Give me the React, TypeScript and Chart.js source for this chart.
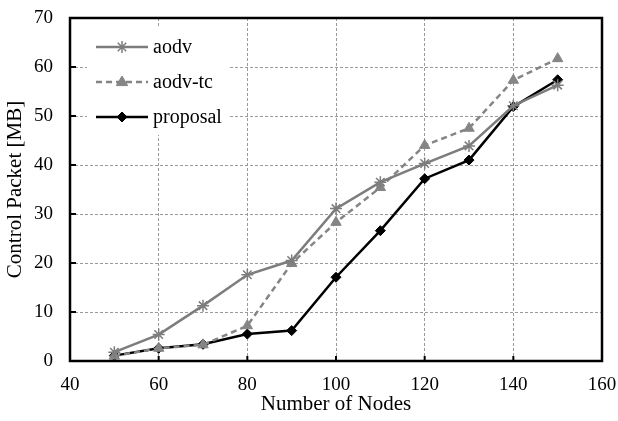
import React, { useEffect, useRef } from "react";
import { Chart, registerables } from "chart.js";

Chart.register(...registerables);

const nodes = [50, 60, 70, 80, 90, 100, 110, 120, 130, 140, 150];
const aodv = [1.8, 5.4, 11.3, 17.6, 20.5, 31.1, 36.5, 40.3, 43.9, 52.1, 56.3];
const aodvTc = [1.0, 2.6, 3.3, 7.2, 19.9, 28.3, 35.4, 44.0, 47.5, 57.3, 61.7];
const proposal = [1.1, 2.6, 3.4, 5.5, 6.2, 17.1, 26.6, 37.2, 41.0, 51.9, 57.4];
const xTicks = [40, 60, 80, 100, 120, 140, 160];
const yTicks = [0, 10, 20, 30, 40, 50, 60, 70];
const seriesNames = ["aodv", "aodv-tc", "proposal"];

const FONT = "'Liberation Serif', 'Times New Roman', serif";
const GRAY = "#7d7d7d";

function drawPoint(ctx: CanvasRenderingContext2D, style: any, x: number, y: number) {
  const r = style.radius;
  ctx.beginPath();
  if (style.pointStyle === "triangle") {
    ctx.moveTo(x, y - r);
    ctx.lineTo(x + r * 0.95, y + r * 0.6);
    ctx.lineTo(x - r * 0.95, y + r * 0.6);
    ctx.closePath();
    ctx.fill();
    ctx.stroke();
  } else if (style.pointStyle === "rectRot") {
    ctx.moveTo(x, y - r);
    ctx.lineTo(x + r, y);
    ctx.lineTo(x, y + r);
    ctx.lineTo(x - r, y);
    ctx.closePath();
    ctx.fill();
    ctx.stroke();
  } else {
    for (let k = 0; k < 4; k++) {
      const a = (k * Math.PI) / 4;
      ctx.moveTo(x + Math.cos(a) * r, y + Math.sin(a) * r);
      ctx.lineTo(x - Math.cos(a) * r, y - Math.sin(a) * r);
    }
    ctx.stroke();
  }
}

const framePlugin = {
  id: "frameAndLegend",
  afterDraw(chart: any) {
    const { ctx, chartArea } = chart;
    const { left, right, top, bottom } = chartArea;
    const xs = chart.scales.x;
    const ys = chart.scales.y;
    ctx.save();
    ctx.strokeStyle = "#000";
    ctx.lineWidth = 2;
    ctx.setLineDash([]);
    yTicks.forEach((v) => {
      const y = ys.getPixelForValue(v);
      ctx.beginPath();
      ctx.moveTo(left, y);
      ctx.lineTo(left + 6, y);
      ctx.stroke();
    });
    xTicks.forEach((v) => {
      const x = xs.getPixelForValue(v);
      ctx.beginPath();
      ctx.moveTo(x, bottom);
      ctx.lineTo(x, bottom - 5);
      ctx.stroke();
    });
    ctx.lineWidth = 2.5;
    ctx.strokeRect(left, top, right - left, bottom - top);

    const lx = left + 17;
    const ly = top + 10;
    ctx.fillStyle = "#fff";
    ctx.fillRect(lx, ly, 143, 107);
    chart.data.datasets.forEach((ds: any, i: number) => {
      const y = top + 29 + i * 35;
      const x0 = left + 26;
      const x1 = left + 78;
      ctx.save();
      ctx.strokeStyle = ds.borderColor;
      ctx.lineWidth = ds.borderWidth;
      ctx.setLineDash(ds.borderDash || []);
      ctx.beginPath();
      ctx.moveTo(x0, y);
      ctx.lineTo(x1, y);
      ctx.stroke();
      ctx.restore();
      ctx.save();
      ctx.fillStyle = ds.pointBackgroundColor;
      ctx.strokeStyle = ds.pointBorderColor;
      ctx.lineWidth = ds.pointBorderWidth;
      ctx.setLineDash([]);
      drawPoint(ctx, { pointStyle: ds.pointStyle, radius: ds.pointRadius }, (x0 + x1) / 2, y);
      ctx.restore();
      ctx.fillStyle = "#000";
      ctx.font = `20px ${FONT}`;
      ctx.textAlign = "left";
      ctx.textBaseline = "middle";
      ctx.fillText(ds.label, x1 + 5, y + 1);
    });
    ctx.restore();
  },
};

export default function App() {
  const ref = useRef<HTMLCanvasElement>(null);
  useEffect(() => {
    document.body.style.margin = "0";
    const toXY = (arr: number[]) => arr.map((v, i) => ({ x: nodes[i], y: v }));
    const chart = new Chart(ref.current!, {
      type: "line",
      data: {
        datasets: [
          {
            label: seriesNames[0],
            data: toXY(aodv),
            borderColor: GRAY,
            borderWidth: 2.5,
            pointStyle: "star",
            pointRadius: 6,
            pointBorderWidth: 1.5,
            pointBorderColor: GRAY,
            pointBackgroundColor: GRAY,
          },
          {
            label: seriesNames[1],
            data: toXY(aodvTc),
            borderColor: "#858585",
            borderWidth: 2.5,
            borderDash: [6, 4],
            pointStyle: "triangle",
            pointRadius: 6,
            pointBorderWidth: 1,
            pointBorderColor: "#858585",
            pointBackgroundColor: "#858585",
          },
          {
            label: seriesNames[2],
            data: toXY(proposal),
            borderColor: "#000",
            borderWidth: 2.5,
            pointStyle: "rectRot",
            pointRadius: 5,
            pointBorderWidth: 1,
            pointBorderColor: "#000",
            pointBackgroundColor: "#000",
          },
        ] as any,
      },
      options: {
        animation: false,
        responsive: false,
        maintainAspectRatio: false,
        layout: { padding: { left: 0, right: 16, top: 18, bottom: 0 } },
        plugins: { legend: { display: false }, tooltip: { enabled: false } },
        elements: { line: { tension: 0 } },
        scales: {
          x: {
            type: "linear",
            min: 40,
            max: 160,
            afterFit: (s: any) => {
              s.height = 60;
              s.paddingLeft = 0;
              s.paddingRight = 0;
            },
            afterBuildTicks: (s: any) => {
              s.ticks = xTicks.map((v) => ({ value: v }));
            },
            ticks: {
              color: "#000",
              font: { family: FONT, size: 19 },
              padding: 13,
              maxRotation: 0,
              autoSkip: false,
            },
            grid: {
              color: (c: any) =>
                c.tick && (c.tick.value === 40 || c.tick.value === 160) ? "rgba(0,0,0,0)" : "#9a9a9a",
              lineWidth: 1,
              drawTicks: false,
            },
            border: { display: false, dash: [3, 2] },
            title: {
              display: true,
              text: "Number of Nodes",
              color: "#000",
              font: { family: FONT, size: 21 },
              padding: { top: 0, bottom: 4 },
            },
          },
          y: {
            min: 0,
            max: 70,
            afterFit: (s: any) => {
              s.width = 70;
              s.paddingTop = 0;
              s.paddingBottom = 0;
            },
            afterBuildTicks: (s: any) => {
              s.ticks = yTicks.map((v) => ({ value: v }));
            },
            ticks: {
              color: "#000",
              font: { family: FONT, size: 19 },
              padding: 17,
            },
            grid: {
              color: (c: any) =>
                c.tick && (c.tick.value === 0 || c.tick.value === 70) ? "rgba(0,0,0,0)" : "#9a9a9a",
              lineWidth: 1,
              drawTicks: false,
            },
            border: { display: false, dash: [3, 2] },
            title: {
              display: true,
              text: "Control Packet [MB]",
              color: "#000",
              font: { family: FONT, size: 21 },
              padding: { top: 3, bottom: 0 },
            },
          },
        },
      } as any,
      plugins: [framePlugin],
    });
    return () => chart.destroy();
  }, []);
  return (
    <div style={{ position: "absolute", left: 0, top: 0, width: 618, height: 421 }}>
      <canvas ref={ref} width={618} height={421} style={{ width: 618, height: 421 }} />
    </div>
  );
}
